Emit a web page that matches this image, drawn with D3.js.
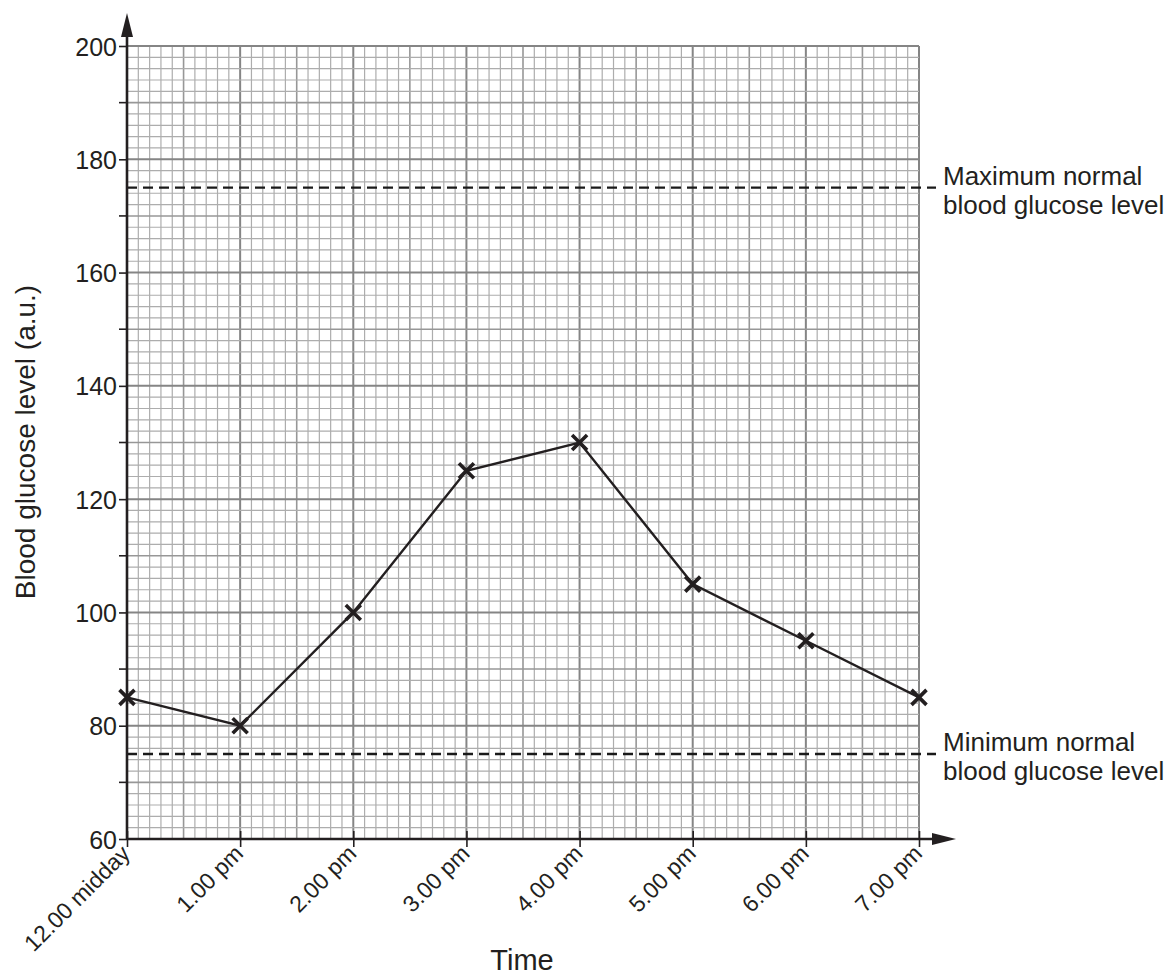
<!DOCTYPE html>
<html><head><meta charset="utf-8">
<script src="https://cdn.jsdelivr.net/npm/d3@7"></script>
<style>body{margin:0;background:#fff}svg{display:block;font-family:Arial,"Liberation Sans",sans-serif}</style>
</head><body>
<svg id="c" width="1174" height="976"></svg>
<script>
const times = ["12.00 midday","1.00 pm","2.00 pm","3.00 pm","4.00 pm","5.00 pm","6.00 pm","7.00 pm"];
const glucose = [85, 80, 100, 125, 130, 105, 95, 85];
const yTicks = [60, 80, 100, 120, 140, 160, 180, 200];
const yMinorTicks = [70, 90, 110, 130, 150, 170, 190];
const refLevels = [175, 75];
const refLabels = [["Maximum normal","blood glucose level"],["Minimum normal","blood glucose level"]];

const FONT = "Arial,'Liberation Sans',sans-serif";
const INK = "#231f20";
const svg = d3.select("#c");
const L = 127, R = 919, T = 46, B = 839;
const x = d3.scaleLinear().domain([0, 7]).range([L, R]);
const y = d3.scaleLinear().domain([60, 200]).range([B, T]);

const g = svg.append("g");
function gridStyle(sel, i) {
  const major = i % 10 === 0, mid = i % 5 === 0;
  sel.attr("stroke", major ? "#858585" : mid ? "#979797" : "#adadad")
     .attr("stroke-width", major ? 2 : mid ? 1.6 : 1.2);
}
for (let i = 0; i <= 70; i++) {
  const v = i / 10;
  g.append("line").attr("x1", x(v)).attr("x2", x(v)).attr("y1", T).attr("y2", B).call(gridStyle, i);
}
for (let i = 0; i <= 70; i++) {
  const v = 60 + i * 2;
  g.append("line").attr("x1", L).attr("x2", R).attr("y1", y(v)).attr("y2", y(v)).call(gridStyle, i);
}

// reference dashed lines
refLevels.forEach((lv, k) => {
  svg.append("line").attr("x1", L).attr("x2", 936).attr("y1", y(lv)).attr("y2", y(lv))
    .attr("stroke", "#1a1a1a").attr("stroke-width", 2.4).attr("stroke-dasharray", "10,6");
  const t = svg.append("text").attr("x", 943).attr("y", y(lv) - 3).attr("font-size", 26).attr("fill", INK).attr("font-family", FONT);
  refLabels[k].forEach((s, j) => t.append("tspan").attr("x", 943).attr("dy", j ? 29 : 0).text(s));
});

// axes
svg.append("line").attr("x1", L).attr("x2", L).attr("y1", B).attr("y2", 30).attr("stroke", INK).attr("stroke-width", 2.6);
svg.append("path").attr("d", `M${L},13 L${L-6},37 L${L+6},37 Z`).attr("fill", INK);
svg.append("line").attr("x1", L).attr("x2", 940).attr("y1", B).attr("y2", B).attr("stroke", INK).attr("stroke-width", 2.6);
svg.append("path").attr("d", `M956,${B} L932,${B-6} L932,${B+6} Z`).attr("fill", INK);

const yAxis = d3.axisLeft(y).tickValues(yTicks).tickSize(8).tickFormat(d3.format("d"));
const ya = svg.append("g").attr("transform", `translate(${L},0)`).call(yAxis);
ya.select(".domain").remove();
ya.selectAll("line").attr("stroke", INK).attr("stroke-width", 1.6);
ya.selectAll("text").attr("font-size", 25).attr("fill", INK).attr("x", -10).attr("dy", "0.36em").attr("font-family", FONT);
svg.append("g").selectAll("line").data(yMinorTicks).join("line")
  .attr("x1", L - 8).attr("x2", L).attr("y1", d => y(d)).attr("y2", d => y(d))
  .attr("stroke", INK).attr("stroke-width", 1.6);

const xAxis = d3.axisBottom(x).tickValues(d3.range(8)).tickSize(8).tickFormat(i => times[i]);
const xa = svg.append("g").attr("transform", `translate(0,${B})`).call(xAxis);
xa.select(".domain").remove();
xa.selectAll("line").attr("stroke", INK).attr("stroke-width", 1.6).attr("y1", -8).attr("y2", 8);
xa.selectAll("text").attr("font-size", 23).attr("fill", INK).attr("font-family", FONT)
  .attr("text-anchor", "end").attr("dy", null).attr("y", 0)
  .attr("transform", "translate(4,16) rotate(-45)");

// axis titles
svg.append("text").attr("transform", "translate(35,442) rotate(-90)").attr("text-anchor", "middle")
  .attr("font-size", 28).attr("fill", INK).attr("font-family", FONT).text("Blood glucose level (a.u.)");
svg.append("text").attr("x", 522).attr("y", 970).attr("text-anchor", "middle")
  .attr("font-size", 29).attr("fill", INK).attr("font-family", FONT).text("Time");

// data line
const line = d3.line().x((d, i) => x(i)).y(d => y(d));
svg.append("path").datum(glucose).attr("d", line).attr("fill", "none").attr("stroke", INK).attr("stroke-width", 2.4);
const s = 7.5;
svg.append("g").selectAll("path").data(glucose).join("path")
  .attr("d", (d, i) => { const cx = x(i), cy = y(d); return `M${cx-s},${cy-s}L${cx+s},${cy+s}M${cx-s},${cy+s}L${cx+s},${cy-s}`; })
  .attr("stroke", INK).attr("stroke-width", 3.6).attr("fill", "none");
</script>
</body></html>
